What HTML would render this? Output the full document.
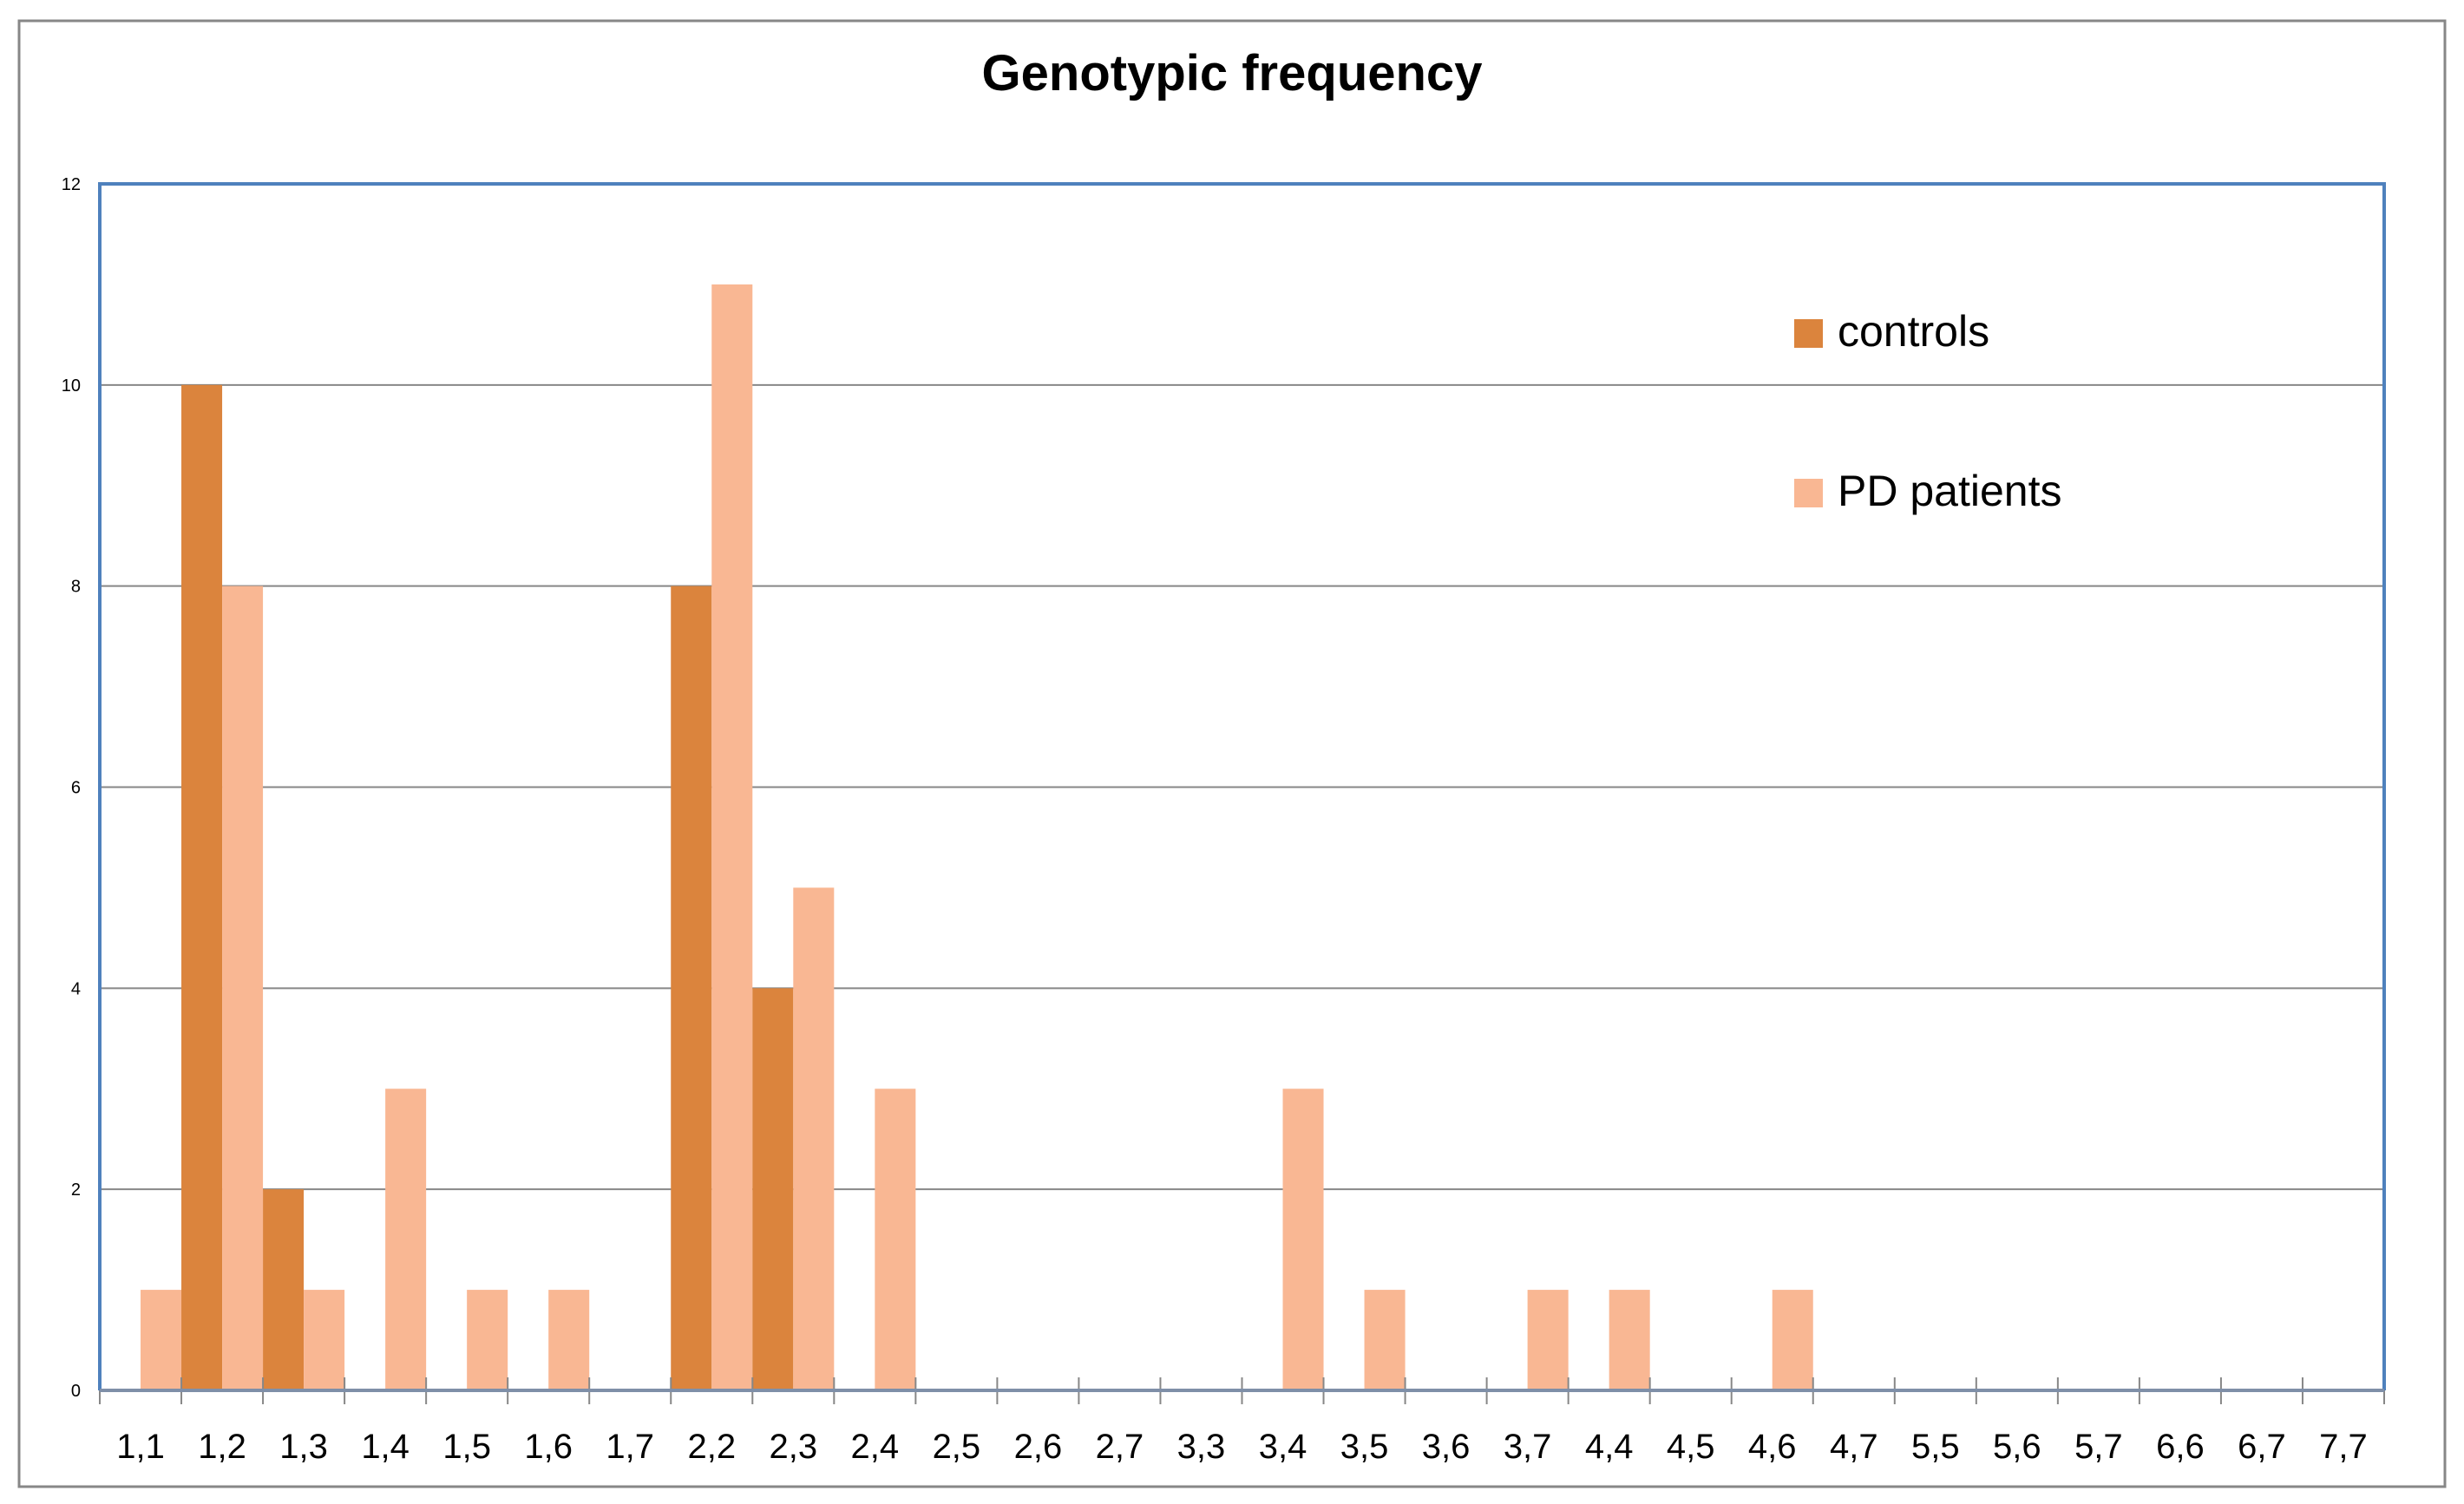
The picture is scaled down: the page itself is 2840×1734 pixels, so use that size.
<!DOCTYPE html>
<html><head><meta charset="utf-8"><style>
html,body{margin:0;padding:0;background:#fff;}
svg{display:block;font-family:"Liberation Sans",sans-serif;}
</style></head><body>
<svg id="c" width="2840" height="1734" viewBox="0 0 2840 1734">
<rect x="22" y="24" width="2796" height="1690" fill="#fff" stroke="#878787" stroke-width="3"/>
<text x="1420" y="104" text-anchor="middle" font-size="58" font-weight="bold">Genotypic frequency</text>
<g id="grid"></g><g id="bars"></g><g id="axes"></g>
<g>
<rect x="2068" y="368" width="33" height="33" fill="#DB843D"/>
<text x="2118" y="399" font-size="50">controls</text>
<rect x="2068" y="552" width="33" height="33" fill="#F9B793"/>
<text x="2118" y="583" font-size="50">PD patients</text>
</g>
</svg>
<script>
const categories=["1,1","1,2","1,3","1,4","1,5","1,6","1,7","2,2","2,3","2,4","2,5","2,6","2,7","3,3","3,4","3,5","3,6","3,7","4,4","4,5","4,6","4,7","5,5","5,6","5,7","6,6","6,7","7,7"];
const controls=[0,10,2,0,0,0,0,8,4,0,0,0,0,0,0,0,0,0,0,0,0,0,0,0,0,0,0,0];
const pdPatients=[1,8,1,3,1,1,0,11,5,3,0,0,0,0,3,1,0,1,1,0,1,0,0,0,0,0,0,0];
const yTicks=[0,2,4,6,8,10,12];
const NS="http://www.w3.org/2000/svg";
const L=115,R=2748,T=212,B=1603,YMAX=12;
const bw=(R-L)/categories.length;
const x=i=>L+i*bw;
const y=v=>B-(v/YMAX)*(B-T);
function mk(t,a,p){const e=document.createElementNS(NS,t);for(const k in a)e.setAttribute(k,a[k]);p.appendChild(e);return e;}
const grid=document.getElementById('grid'),bars=document.getElementById('bars'),axes=document.getElementById('axes');
yTicks.forEach(v=>{
  if(v>0&&v<YMAX){const g=mk('line',{x1:L,x2:R,y1:y(v),y2:y(v),stroke:'#878787','stroke-width':2},grid);
  
  }
  const t=mk('text',{x:93,y:y(v)+7,'text-anchor':'end','font-size':20},axes);t.textContent=v;
  
  
});
categories.forEach((c,i)=>{
  if(controls[i]>0){const r=mk('rect',{x:x(i),y:y(controls[i]),width:bw/2,height:B-y(controls[i]),fill:'#DB843D'},bars);
  
  }
  if(pdPatients[i]>0){const r=mk('rect',{x:x(i)+bw/2,y:y(pdPatients[i]),width:bw/2,height:B-y(pdPatients[i]),fill:'#F9B793'},bars);
  
  }
  const t=mk('text',{x:x(i)+bw/2,y:1681,'text-anchor':'middle','font-size':40},axes);t.textContent=c;
  
  
});
for(let i=0;i<=categories.length;i++){const tk=mk('line',{x1:x(i),x2:x(i),y1:B-15,y2:B+16,stroke:'#878787','stroke-width':2},axes);

}
const fr=mk('path',{d:`M${L},${B} L${L},${T} L${R},${T} L${R},${B}`,fill:'none',stroke:'#4F81BD','stroke-width':4},axes);


const xa=mk('line',{x1:L,x2:R,y1:B,y2:B,stroke:'#7F8FA8','stroke-width':4},axes);


</script>
</body></html>
